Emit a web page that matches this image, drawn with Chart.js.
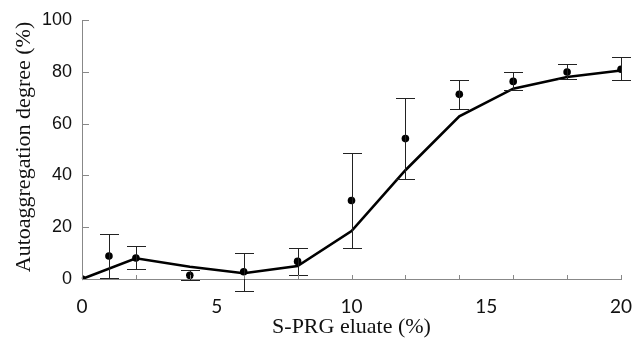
<!DOCTYPE html>
<html>
<head>
<meta charset="utf-8">
<script src="https://cdn.jsdelivr.net/npm/chart.js@4/dist/chart.umd.min.js"></script>
<style>
html,body{margin:0;padding:0;background:#fff;}
#wrap{width:633px;height:345px;position:relative;}
</style>
</head>
<body>
<div id="wrap"><canvas id="c" width="633" height="345"></canvas></div>
<script>
// Fitted curve
const fitX = [0, 2, 4, 6, 8, 10, 12, 14, 16, 18, 20];
const fitY = [0, 8, 4.7, 2.2, 5, 18.5, 42, 62.8, 73.5, 78, 80.5];
// Measured means with error bars
const obsX = [0, 1, 2, 4, 6, 8, 10, 12, 14, 16, 18, 20];
const obsY = [0, 8.9, 8.1, 1.4, 2.8, 6.8, 30.3, 54.2, 71.3, 76.3, 79.9, 81];
const obsHi = [null, 17.4, 12.6, 3.3, 10, 11.8, 48.7, 69.8, 77, 80, 82.9, 85.6];
const obsLo = [null, 0.4, 3.7, -0.5, -4.5, 1.7, 12.1, 38.5, 65.8, 72.9, 77.1, 76.7];
// Axes
const xTickLabels = [0, 5, 10, 15, 20];
const xMinorTicks = [0, 2, 4, 6, 8, 10, 12, 14, 16, 18, 20];
const yTickLabels = [0, 20, 40, 60, 80, 100];
const xTitle = 'S-PRG eluate (%)';
const yTitle = 'Autoaggregation degree (%)';

const extras = {
  id: 'extras',
  afterDatasetsDraw(chart) {
    const ctx = chart.ctx, xs = chart.scales.x, ys = chart.scales.y;
    ctx.save();
    ctx.strokeStyle = '#222';
    ctx.lineWidth = 1;
    const cap = 9.5;
    obsX.forEach((x, i) => {
      if (obsHi[i] === null) return;
      const px = Math.round(xs.getPixelForValue(x)) + 0.5;
      const hi = Math.round(ys.getPixelForValue(obsHi[i])) + 0.5;
      const lo = Math.round(ys.getPixelForValue(obsLo[i])) + 0.5;
      ctx.beginPath();
      ctx.moveTo(px, hi); ctx.lineTo(px, lo);
      ctx.moveTo(px - cap, hi); ctx.lineTo(px + cap, hi);
      ctx.moveTo(px - cap, lo); ctx.lineTo(px + cap, lo);
      ctx.stroke();
    });
    ctx.restore();
  },
  afterDraw(chart) {
    const ctx = chart.ctx, xs = chart.scales.x, ys = chart.scales.y;
    const ca = chart.chartArea;
    ctx.save();
    ctx.strokeStyle = '#888';
    ctx.lineWidth = 1;
    ctx.beginPath();
    xMinorTicks.forEach(v => {
      const px = Math.round(xs.getPixelForValue(v)) + 0.5;
      ctx.moveTo(px, ca.bottom); ctx.lineTo(px, ca.bottom - 4);
    });
    yTickLabels.forEach(v => {
      const py = Math.round(ys.getPixelForValue(v)) + 0.5;
      ctx.moveTo(ca.left, py); ctx.lineTo(ca.left + 7, py);
    });
    ctx.stroke();
    // titles
    ctx.fillStyle = '#111';
    ctx.font = '22px "Liberation Serif"';
    ctx.textAlign = 'center';
    ctx.textBaseline = 'alphabetic';
    ctx.fillText(xTitle, (ca.left + ca.right) / 2, 333);
    ctx.translate(30, 147);
    ctx.rotate(-Math.PI / 2);
    ctx.font = '22px "Liberation Serif"';
    ctx.fillText(yTitle, 0, 0);
    ctx.restore();
  }
};

new Chart(document.getElementById('c'), {
  type: 'scatter',
  data: {
    datasets: [
      {
        type: 'scatter',
        data: obsX.map((x, i) => ({x: x, y: obsY[i]})),
        backgroundColor: '#000',
        borderColor: '#000',
        pointRadius: 3.8,
        pointBorderWidth: 0,
        order: 0
      },
      {
        type: 'line',
        data: fitX.map((x, i) => ({x: x, y: fitY[i]})),
        borderColor: '#000',
        borderWidth: 2.6,
        pointRadius: 0,
        tension: 0,
        fill: false,
        clip: false,
        order: 1
      }
    ]
  },
  options: {
    responsive: false,
    animation: false,
    devicePixelRatio: 1,
    layout: {padding: {top: 20, right: 12, left: 0, bottom: 0}},
    plugins: {legend: {display: false}, tooltip: {enabled: false}},
    scales: {
      x: {
        type: 'linear',
        min: 0, max: 20,
        afterFit(s) { s.height = 66; s.paddingLeft = 0; s.paddingRight = 0; },
        afterBuildTicks(s) { s.ticks = xTickLabels.map(v => ({value: v})); },
        grid: {display: true, drawOnChartArea: false, drawTicks: false, color: 'rgba(0,0,0,0)'},
        border: {display: true, color: '#888', width: 1},
        ticks: {padding: 16, color: '#111', font: {family: 'Lato', size: 19}, maxRotation: 0}
      },
      y: {
        type: 'linear',
        min: 0, max: 100,
        afterFit(s) { s.width = 82; s.paddingTop = 0; s.paddingBottom = 0; },
        afterBuildTicks(s) { s.ticks = yTickLabels.map(v => ({value: v})); },
        grid: {display: true, drawOnChartArea: false, drawTicks: false, color: 'rgba(0,0,0,0)'},
        border: {display: true, color: '#888', width: 1},
        ticks: {padding: 10, color: '#111', font: {family: 'Liberation Sans', size: 18}}
      }
    }
  },
  plugins: [extras]
});
</script>
</body>
</html>
